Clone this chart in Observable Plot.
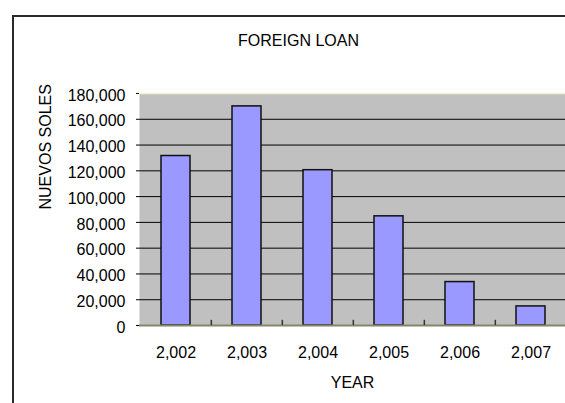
<!DOCTYPE html>
<html><head><meta charset="utf-8">
<script src="https://cdn.jsdelivr.net/npm/d3@7"></script>
<script src="https://cdn.jsdelivr.net/npm/@observablehq/plot@0.6"></script>
<style>
html,body{margin:0;padding:0;background:#fff;overflow:hidden}
#wrap{position:relative;width:565px;height:403px;overflow:hidden}
#border{position:absolute;left:12px;top:15px;width:640px;height:440px;border:2px solid #2a2a2a;box-sizing:border-box;pointer-events:none}
#chart{position:absolute;left:0;top:0}
</style></head><body>
<div id="wrap"><div id="chart"></div><div id="border"></div></div>
<script>
const years = [2002, 2003, 2004, 2005, 2006, 2007];
const values = [131500, 170000, 120500, 84700, 33700, 14800];
const yTicks = [0, 20000, 40000, 60000, 80000, 100000, 120000, 140000, 160000, 180000];
const titleText = "FOREIGN LOAN";
const xLabel = "YEAR";
const yLabel = "NUEVOS SOLES";

const data = years.map((year, i) => ({year, value: values[i]}));
const fmt = d3.format(",");
const font = "'Liberation Sans', Arial, sans-serif";
const xRange = [139, 567];
const halfStep = (xRange[1] - xRange[0]) / years.length / 2;

const chart = Plot.plot({
  width: 565,
  height: 403,
  marginTop: 93,
  marginBottom: 78,
  marginLeft: 139,
  marginRight: 0,
  style: {fontFamily: font, fontSize: "16px", color: "#000", background: "transparent"},
  x: {type: "band", domain: years, range: xRange, paddingInner: 0.59, paddingOuter: 0.295, axis: null},
  y: {domain: [0, 180000], axis: null},
  marks: [
    Plot.frame({fill: "#c0c0c0", stroke: null}),
    Plot.ruleY(yTicks.filter(d => d > 0 && d < 180000), {stroke: "#000", strokeWidth: 1}),
    Plot.ruleY([180000], {stroke: "#f2f2cc", strokeWidth: 1.5}),
    Plot.barY(data, {x: "year", y: "value", fill: "#9999ff", stroke: "#111", strokeWidth: 1.5}),
    Plot.ruleY([0], {stroke: "#86866a", strokeWidth: 2}),
    Plot.ruleX(years.slice(1), {x: d => d, y1: 0, y2: 4000, dx: -halfStep, stroke: "#333", strokeWidth: 1.5}),
    Plot.axisY({ticks: yTicks, tickSize: 3, tickFormat: () => "", label: null, stroke: "#000"}),
    Plot.text(yTicks, {y: d => d, text: d => fmt(d), frameAnchor: "left", lineAnchor: "middle", textAnchor: "end", dx: -14, dy: 2, fontSize: 16, fill: "#000"}),
    Plot.text(years, {x: d => d, text: d => fmt(d), frameAnchor: "bottom", lineAnchor: "middle", dy: 27, fontSize: 16, fill: "#000"}),
    Plot.text([xLabel], {text: d => d, frameAnchor: "bottom", lineAnchor: "middle", dy: 57, fontSize: 16, fill: "#000"}),
    Plot.text([yLabel], {text: d => d, frameAnchor: "left", lineAnchor: "middle", rotate: -90, dx: -94, fontSize: 16, fill: "#000"}),
    Plot.text([titleText], {text: d => d, frameAnchor: "top", lineAnchor: "middle", dx: -54, dy: -53, fontSize: 16, fill: "#000"})
  ]
});
document.getElementById("chart").appendChild(chart);
</script>
</body></html>
